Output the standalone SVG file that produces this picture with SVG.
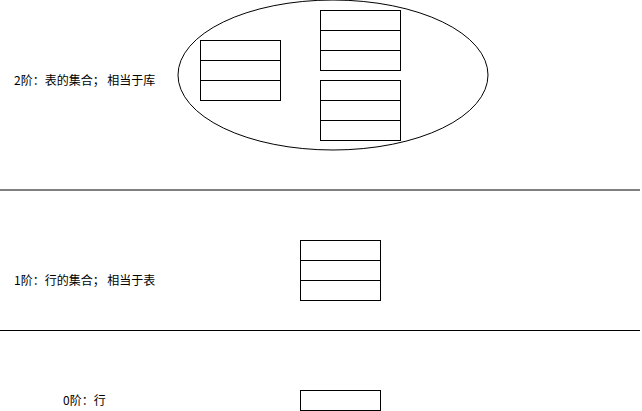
<svg xmlns="http://www.w3.org/2000/svg" width="642" height="411" viewBox="0 0 642 411">
<style>
.t{font-family:"Noto Sans CJK SC","Liberation Sans",sans-serif;font-size:12px;fill:#000}
.b{fill:#fff;stroke:#000;stroke-width:1}
.r{fill:none;stroke:#000;stroke-width:1}
</style>
<rect width="642" height="411" fill="#fff"/>
<g id="labels">
<text class="t" x="14" y="85">2阶：表的集合； 相当于库</text>
<text class="t" x="14" y="285">1阶：行的集合； 相当于表</text>
<text class="t" x="63" y="405">0阶：行</text>
</g>
<g id="dividers">
<line x1="0" y1="190" x2="640" y2="190" stroke="#000" stroke-width="1"/>
<line x1="0" y1="330.5" x2="640" y2="330.5" stroke="#000" stroke-width="1"/>
</g>
<g id="database">
<ellipse cx="333" cy="75" rx="155" ry="75" fill="#fff" stroke="#000" stroke-width="1"/>
</g>
<g id="table-a">
<rect class="b" x="200.5" y="40.5" width="80" height="60"/>
<line class="r" x1="200.5" y1="60.5" x2="280.5" y2="60.5"/>
<line class="r" x1="200.5" y1="80.5" x2="280.5" y2="80.5"/>
</g>
<g id="table-b">
<rect class="b" x="320.5" y="10.5" width="80" height="60"/>
<line class="r" x1="320.5" y1="30.5" x2="400.5" y2="30.5"/>
<line class="r" x1="320.5" y1="50.5" x2="400.5" y2="50.5"/>
</g>
<g id="table-c">
<rect class="b" x="320.5" y="80.5" width="80" height="60"/>
<line class="r" x1="320.5" y1="100.5" x2="400.5" y2="100.5"/>
<line class="r" x1="320.5" y1="120.5" x2="400.5" y2="120.5"/>
</g>
<g id="table-1">
<rect class="b" x="300.5" y="240.5" width="80" height="60"/>
<line class="r" x1="300.5" y1="260.5" x2="380.5" y2="260.5"/>
<line class="r" x1="300.5" y1="280.5" x2="380.5" y2="280.5"/>
</g>
<g id="row-0">
<rect class="b" x="300.5" y="390.5" width="80" height="20"/>
</g>
</svg>
